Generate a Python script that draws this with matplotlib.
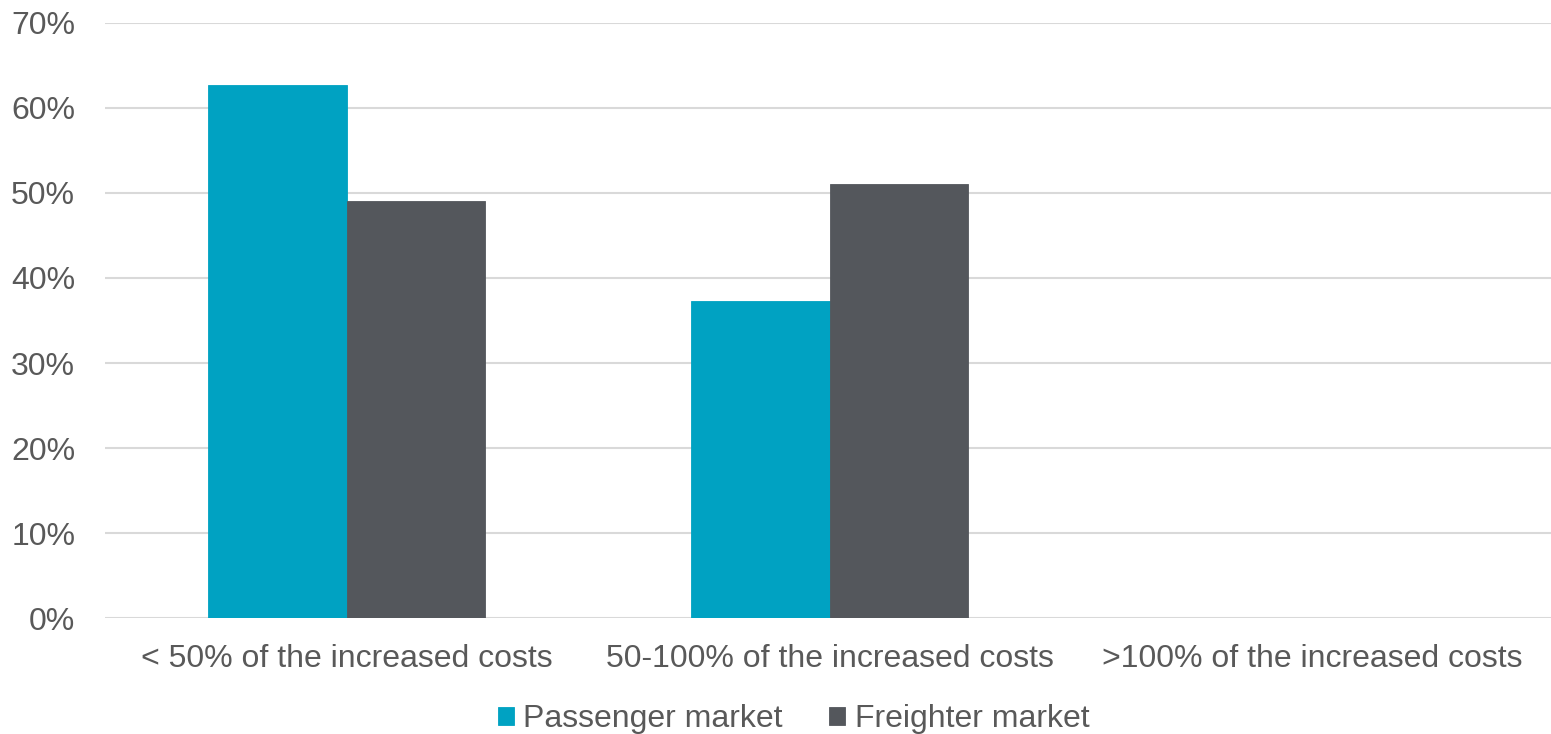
import numpy as np
import matplotlib
matplotlib.use("Agg")
import matplotlib.pyplot as plt
from matplotlib.ticker import PercentFormatter

categories = ["< 50% of the increased costs", "50-100% of the increased costs", ">100% of the increased costs"]
passenger = [62.7, 37.3, 0.0]
freighter = [49.0, 51.0, 0.0]

plt.rcParams["font.family"] = ["Liberation Sans", "DejaVu Sans"]
text_color = "#595959"

fig = plt.figure(figsize=(15.51, 7.34), dpi=100)
ax = fig.add_axes([0.0677, 0.158, 0.9343, 0.8107])

x = np.arange(len(categories))
w = 0.286
ax.bar(x - w / 2, passenger, w, color="#00A2C2", edgecolor="#00A2C2", linewidth=0.6, label="Passenger market", zorder=3)
ax.bar(x + w / 2, freighter, w, color="#54575C", edgecolor="#54575C", linewidth=0.6, label="Freighter market", zorder=3)

ax.set_xlim(-0.5, 2.5)
ax.set_ylim(0, 70)
ax.set_yticks(np.arange(0, 71, 10))
ax.yaxis.set_major_formatter(PercentFormatter(decimals=0))
ax.set_xticks(x)
ax.set_xticklabels(categories)
ax.grid(axis="y", color="#D9D9D9", linewidth=1.5, zorder=0)
for s in ax.spines.values():
    s.set_visible(False)
ax.tick_params(length=0, labelsize=23, colors=text_color, pad=19)
ax.tick_params(axis="y", pad=21.5)

fig.legend(loc="center", bbox_to_anchor=(0.5116, 0.0205), ncol=2, frameon=False,
           fontsize=23, labelcolor=text_color, handlelength=0.5, handleheight=0.5,
           handletextpad=0.3, columnspacing=1.45)

fig.savefig("out.png", dpi=100)
